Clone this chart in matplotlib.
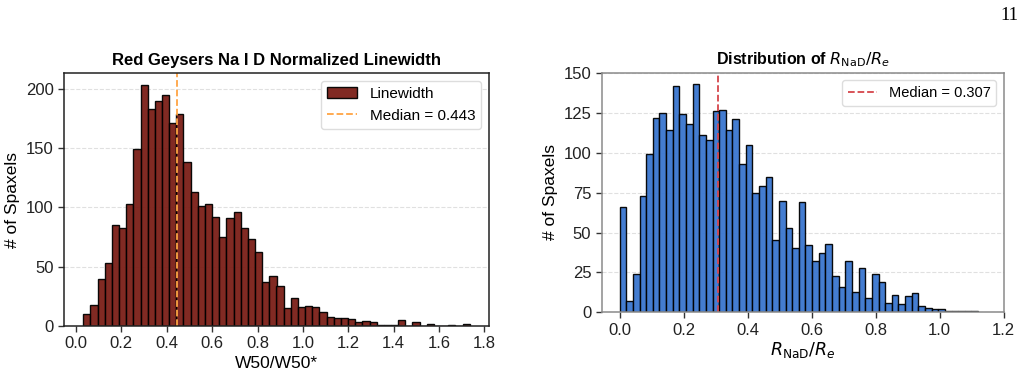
import numpy as np
import matplotlib
matplotlib.use('Agg')
import matplotlib.pyplot as plt

plt.rcParams['font.family'] = ['Liberation Sans', 'DejaVu Sans']
plt.rcParams['mathtext.fontset'] = 'dejavusans'

# left panel: normalized Na I D linewidth W50/W50*, 54 equal bins
lw_range = (0.032, 1.735)
lw_counts = [10, 18, 40, 53, 85, 83, 103, 149, 203, 183,
             190, 195, 171, 179, 138, 113, 101, 103, 92, 75,
             91, 96, 83, 73, 62, 37, 42, 34, 15, 24,
             16, 17, 16, 12, 8, 7, 7, 6, 3, 4,
             3, 1, 1, 1, 5, 0, 3, 0, 2, 0,
             0, 1, 0, 2]
lw_median = 0.443

# right panel: R_NaD / R_e, 54 equal bins
r_range = (0.0, 1.12)
r_counts = [66, 7, 24, 73, 99, 122, 125, 114, 142, 124,
            118, 143, 111, 108, 126, 127, 114, 121, 93, 105,
            75, 79, 85, 45, 70, 53, 40, 69, 42, 32,
            37, 43, 23, 16, 32, 13, 28, 9, 24, 19,
            6, 11, 5, 10, 12, 4, 3, 2, 2, 1,
            1, 1, 1, 1]
r_median = 0.307


def draw_hist(ax, rng, counts, **kw):
    edges = np.linspace(rng[0], rng[1], len(counts) + 1)
    centers = 0.5 * (edges[:-1] + edges[1:])
    return ax.hist(centers, bins=edges, weights=counts, **kw)


W, H = 1023, 374
fig = plt.figure(figsize=(W / 100, H / 100), dpi=100)

ax1 = fig.add_axes([64 / W, 1 - 326 / H, (489 - 64) / W, (326 - 73.3) / H])
ax2 = fig.add_axes([601.7 / W, 1 - 312.3 / H, (1003.7 - 601.7) / W, (312.3 - 72.7) / H])

# ---- left ----
draw_hist(ax1, lw_range, lw_counts, color='#7a1e17', edgecolor='black',
          linewidth=1.0, alpha=0.95, label='Linewidth')
ax1.axvline(lw_median, color='#ffa443', linestyle='--', linewidth=1.3,
            label=f'Median = {lw_median:.3f}')
ax1.set_title('Red Geysers Na I D Normalized Linewidth', fontsize=12,
              fontweight='bold', pad=6)
ax1.set_xlabel('W50/W50*', fontsize=12.5, labelpad=3)
ax1.set_ylabel('# of Spaxels', fontsize=12.5)
ax1.set_xticks(np.arange(0, 1.81, 0.2))
ax1.set_yticks([0, 50, 100, 150, 200])
ax1.legend(loc='upper right', fontsize=11, framealpha=1, edgecolor='#dddddd')
for s in ax1.spines.values():
    s.set_color('#222222')
    s.set_linewidth(1.1)

# ---- right ----
draw_hist(ax2, r_range, r_counts, color='#3a76cf', edgecolor='black',
          linewidth=1.0, alpha=0.95)
ax2.axvline(r_median, color='#d6454b', linestyle='--', linewidth=1.3,
            label=f'Median = {r_median:.3f}')
ax2.set_xlim(-0.056, 1.2)
ax2.set_title(r'Distribution of $R_{\rm NaD}/R_e$', fontsize=11.5,
              fontweight='bold', pad=6)
ax2.set_xlabel(r'$R_{\rm NaD}/R_e$', fontsize=12.5, labelpad=2)
ax2.set_ylabel('# of Spaxels', fontsize=12.5)
ax2.set_xticks(np.arange(0, 1.21, 0.2))
ax2.set_yticks([0, 25, 50, 75, 100, 125, 150])
ax2.legend(loc='upper right', fontsize=10.5, framealpha=1, edgecolor='#dddddd')
for s in ax2.spines.values():
    s.set_color('#8a8a8a')
    s.set_linewidth(1.1)

for ax in (ax1, ax2):
    ax.grid(axis='y', linestyle='--', color='#cccccc', linewidth=0.8, alpha=0.6)
    ax.set_axisbelow(True)
    ax.tick_params(labelsize=12, direction='out', length=4, width=1,
                   color='#333333', labelcolor='#222222')

fig.text(1009 / W, 1 - 15 / H, '11', family=['Liberation Serif', 'DejaVu Serif'],
         fontsize=13.5, ha='center', va='center')

fig.savefig('out.png', dpi=100)
